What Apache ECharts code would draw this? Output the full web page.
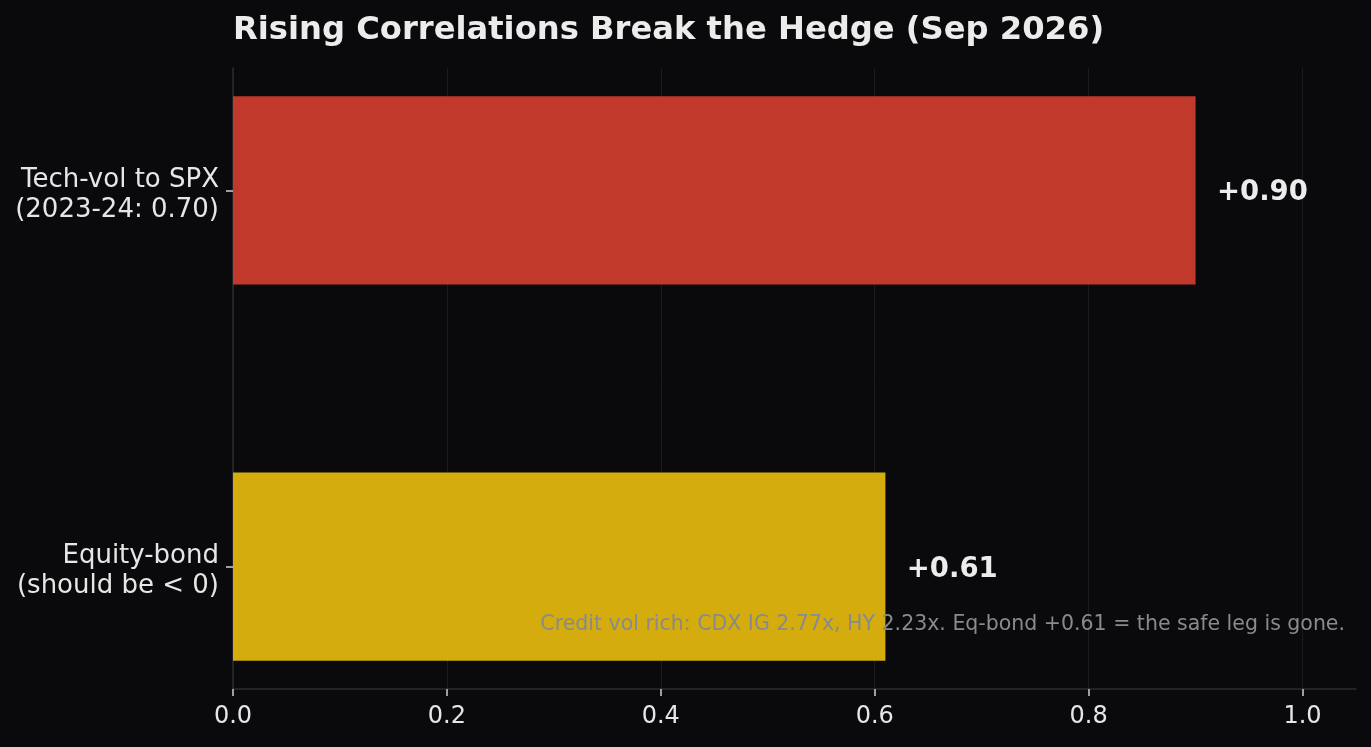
<!DOCTYPE html>
<html>
<head>
<meta charset="utf-8">
<script src="https://cdn.jsdelivr.net/npm/echarts@6/dist/echarts.min.js"></script>
<style>
    html, body { margin: 0; padding: 0; background: #0a0a0c; }
    #chart { width: 1371px; height: 747px; }
</style>
</head>
<body>
<div id="chart"></div>
<script>
// labels, top row first
var categories = ['Tech-vol to SPX\n(2023-24: 0.70)', 'Equity-bond\n(should be < 0)'];
var correlations = [0.90, 0.61];
var barColors = ['#c0392b', '#d4ac0d'];
var rowPos = [1, 0]; // position on the y scale
var xTicks = [0, 0.2, 0.4, 0.6, 0.8, 1.0];
var note = 'Credit vol rich: CDX IG 2.77x, HY 2.23x. Eq-bond +0.61 = the safe leg is gone.';

var FONT = 'DejaVu Sans';
var myChart = echarts.init(document.getElementById('chart'));

var option = {
    backgroundColor: '#0a0a0c',
    animation: false,
    title: {
        text: 'Rising Correlations Break the Hedge (Sep 2026)',
        left: 233,
        top: 15,
        padding: 0,
        textStyle: {
            color: '#ececec',
            fontFamily: FONT,
            fontWeight: 'bold',
            fontSize: 32.2
        }
    },
    grid: {
        left: 233,
        right: 15,
        top: 68,
        bottom: 58
    },
    xAxis: {
        type: 'value',
        min: 0,
        max: 1.05,
        axisLine: { show: true, onZero: false, lineStyle: { color: '#2b2b31', width: 1.5 } },
        axisTick: {
            show: true,
            customValues: xTicks,
            length: 7,
            lineStyle: { color: '#d0d0d0', width: 1.5 }
        },
        axisLabel: {
            customValues: xTicks,
            color: '#e6e6e6',
            fontFamily: FONT,
            fontSize: 24,
            margin: 16,
            formatter: (v) => v.toFixed(1)
        },
        splitLine: { show: true, lineStyle: { color: '#1b1b1f', width: 1 } }
    },
    yAxis: {
        type: 'value',
        min: -0.325,
        max: 1.325,
        axisLine: { show: true, onZero: false, lineStyle: { color: '#2b2b31', width: 1.5 } },
        axisTick: {
            show: true,
            customValues: rowPos,
            length: 7,
            lineStyle: { color: '#d0d0d0', width: 1.5 }
        },
        axisLabel: {
            customValues: rowPos,
            align: 'right',
            margin: 14,
            formatter: (v) => {
                var lines = categories[rowPos.indexOf(Math.round(v))].split('\n');
                // small blank line on top pushes the block down a little, like matplotlib
                return '{s|}\n{t|' + lines[0] + '}\n{t|' + lines[1] + '}';
            },
            rich: {
                s: { lineHeight: 10, fontSize: 1 },
                t: {
                    color: '#e6e6e6', fontFamily: FONT, fontSize: 26,
                    lineHeight: 30, align: 'right'
                }
            }
        },
        splitLine: { show: false }
    },
    graphic: [{
        type: 'text',
        right: 26,
        top: 614,
        z: 100,
        style: {
            text: note,
            fill: '#878a91',
            font: '20.5px "DejaVu Sans"'
        }
    }],
    series: [{
        type: 'custom',
        data: correlations.map((v, i) => [v, rowPos[i], i]),
        encode: { x: 0, y: 1 },
        renderItem: function (params, api) {
            var v = api.value(0);
            var y = api.value(1);
            var i = api.value(2);
            var p0 = api.coord([0, y]);
            var p1 = api.coord([v, y]);
            var h = api.size([0, 0.5])[1];
            var lp = api.coord([v + 0.02, y]);
            return {
                type: 'group',
                children: [{
                    type: 'rect',
                    shape: { x: p0[0], y: p0[1] - h / 2, width: p1[0] - p0[0], height: h },
                    style: { fill: barColors[i] }
                }, {
                    type: 'text',
                    x: lp[0],
                    y: lp[1] + 3,
                    style: {
                        text: '+' + v.toFixed(2),
                        fill: '#ececec',
                        font: 'bold 27.5px "DejaVu Sans"',
                        align: 'left',
                        verticalAlign: 'middle'
                    }
                }]
            };
        }
    }]
};
myChart.setOption(option);
</script>
</body>
</html>
